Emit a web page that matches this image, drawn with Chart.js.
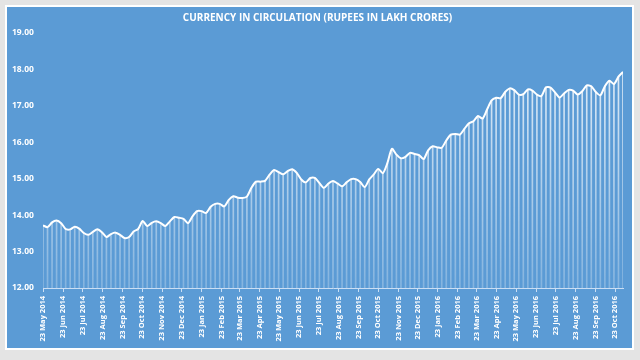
<!DOCTYPE html>
<html>
<head>
<meta charset="utf-8">
<script src="https://cdn.jsdelivr.net/npm/chart.js@4.4.1/dist/chart.umd.min.js"></script>
<style>
  html, body { margin: 0; padding: 0; background: #e4e4e4; }
  #panel { position: absolute; left: 5px; top: 5px; width: 625px; height: 341px; border: 2px solid #fff; background: #5b9bd5; }
  canvas { display: block; }
</style>
</head>
<body>
<div id="panel"><canvas id="cic" width="625" height="341"></canvas></div>
<script>
// weekly readings, first week is 23 May 2014
const startDate = '23 May 2014';
const cic2014 = [13.72, 13.67, 13.80, 13.85, 13.78, 13.62, 13.61, 13.68, 13.63, 13.51, 13.46, 13.54, 13.61, 13.53, 13.40, 13.48,
                 13.52, 13.46, 13.37, 13.40, 13.55, 13.62, 13.84, 13.70, 13.79, 13.83, 13.78, 13.70, 13.83, 13.95, 13.93, 13.90];
const cic2015 = [13.78, 13.97, 14.11, 14.11, 14.06, 14.23, 14.31, 14.31, 14.24, 14.42, 14.52, 14.48, 14.47, 14.51, 14.75, 14.92,
                 14.92, 14.94, 15.11, 15.24, 15.18, 15.12, 15.21, 15.26, 15.16, 14.98, 14.90, 15.02, 15.02, 14.88, 14.75, 14.87,
                 14.94, 14.87, 14.79, 14.90, 14.99, 14.99, 14.91, 14.77, 14.98, 15.12, 15.27, 15.15, 15.43, 15.82, 15.66, 15.56,
                 15.60, 15.71, 15.68, 15.65];
const cic2016 = [15.54, 15.78, 15.89, 15.86, 15.85, 16.05, 16.21, 16.23, 16.21, 16.37, 16.52, 16.58, 16.72, 16.65, 16.90, 17.15,
                 17.22, 17.21, 17.38, 17.48, 17.43, 17.31, 17.32, 17.45, 17.42, 17.31, 17.27, 17.51, 17.50, 17.37, 17.23, 17.34,
                 17.44, 17.42, 17.31, 17.40, 17.56, 17.54, 17.38, 17.29, 17.54, 17.69, 17.60, 17.80, 17.93];
const tickLabels = ['23 May 2014', '23 Jun 2014', '23 Jul 2014', '23 Aug 2014', '23 Sep 2014', '23 Oct 2014', '23 Nov 2014', '23 Dec 2014',
                    '23 Jan 2015', '23 Feb 2015', '23 Mar 2015', '23 Apr 2015', '23 May 2015', '23 Jun 2015', '23 Jul 2015', '23 Aug 2015',
                    '23 Sep 2015', '23 Oct 2015', '23 Nov 2015', '23 Dec 2015', '23 Jan 2016', '23 Feb 2016', '23 Mar 2016', '23 Apr 2016',
                    '23 May 2016', '23 Jun 2016', '23 Jul 2016', '23 Aug 2016', '23 Sep 2016', '23 Oct 2016'];
const yTicks = [12, 13, 14, 15, 16, 17, 18, 19];

const months = ['Jan','Feb','Mar','Apr','May','Jun','Jul','Aug','Sep','Oct','Nov','Dec'];
function dayNum(label) {
  const p = label.split(' ');
  return Date.UTC(+p[2], months.indexOf(p[1]), +p[0]) / 86400000;
}
const day0 = dayNum(startDate);
const values = cic2014.concat(cic2015, cic2016);
const points = values.map((v, i) => ({ x: i * 7, y: v }));
const tickDays = tickLabels.map(l => dayNum(l) - day0);

const font = 'Open Sans';
const axisCol = 'rgba(214,230,247,0.9)';

new Chart(document.getElementById('cic'), {
  type: 'bar',
  data: {
    datasets: [
      {
        type: 'line',
        data: points,
        borderColor: '#ffffff',
        borderWidth: 2,
        pointRadius: 0,
        tension: 0.25,
        order: 0
      },
      {
        type: 'bar',
        data: points,
        barThickness: 1,
        order: 1,
        backgroundColor: function(c) {
          const a = c.chart.chartArea;
          if (!a) return 'rgba(255,255,255,0.6)';
          const g = c.chart.ctx.createLinearGradient(0, a.top, 0, a.bottom);
          g.addColorStop(0, 'rgba(255,255,255,0.9)');
          g.addColorStop(1, 'rgba(255,255,255,0.25)');
          return g;
        }
      }
    ]
  },
  options: {
    responsive: false,
    animation: false,
    layout: { padding: { left: 5, right: 9, top: 0, bottom: 0 } },
    plugins: {
      legend: { display: false },
      tooltip: { enabled: false },
      title: {
        display: true,
        text: 'CURRENCY IN CIRCULATION (RUPEES IN LAKH CRORES)',
        color: '#ffffff',
        font: { family: font, size: 10, weight: 'bold' },
        padding: { top: 5, bottom: 9 }
      }
    },
    scales: {
      x: {
        type: 'linear',
        offset: false,
        min: 0,
        max: (values.length - 1) * 7,
        afterBuildTicks: s => { s.ticks = tickDays.map(v => ({ value: v })); },
        afterFit: s => { s.height = 60; s.paddingLeft = 0; s.paddingRight = 0; },
        ticks: {
          autoSkip: false,
          minRotation: 90,
          maxRotation: 90,
          padding: 4,
          color: '#ffffff',
          font: { family: font, size: 7.5, weight: 'bold' },
          callback: (v, i) => tickLabels[i]
        },
        grid: { display: true, offset: false, drawOnChartArea: false, drawTicks: true, tickLength: 4, color: axisCol },
        border: { display: true, color: axisCol, width: 1 }
      },
      y: {
        min: 12,
        max: 19,
        afterBuildTicks: s => { s.ticks = yTicks.map(v => ({ value: v })); },
        afterFit: s => { s.width = 31; s.paddingTop = 0; s.paddingBottom = 0; },
        ticks: {
          crossAlign: 'far',
          color: '#ffffff',
          font: { family: font, size: 8.5, weight: 'bold' },
          callback: v => v.toFixed(2)
        },
        grid: { display: false },
        border: { display: false }
      }
    }
  }
});
</script>
</body>
</html>
